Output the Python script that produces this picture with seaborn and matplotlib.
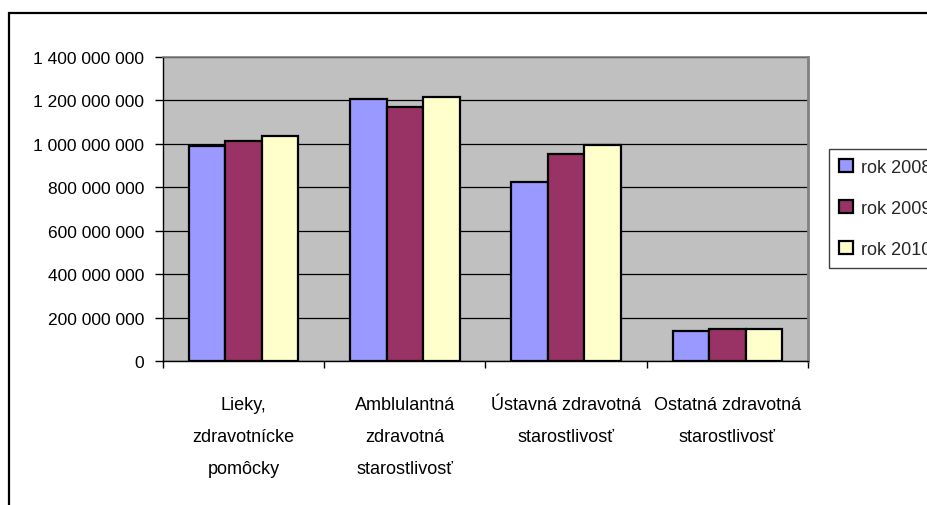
import pandas as pd
import seaborn as sns
import matplotlib.pyplot as plt
from matplotlib.patches import Rectangle
from matplotlib.ticker import FixedLocator, FuncFormatter

# data
categories = [
    "Lieky,\nzdravotnícke\npomôcky",
    "Amblulantná\nzdravotná\nstarostlivosť",
    "Ústavná zdravotná\nstarostlivosť",
    "Ostatná zdravotná\nstarostlivosť",
]
years = ["rok 2008", "rok 2009", "rok 2010"]
vals_2008 = [990e6, 1207e6, 823e6, 138e6]
vals_2009 = [1015e6, 1171e6, 953e6, 148e6]
vals_2010 = [1034e6, 1217e6, 996e6, 149e6]
yticks = [0, 200e6, 400e6, 600e6, 800e6, 1000e6, 1200e6, 1400e6]
colors = ["#9999FF", "#993366", "#FFFFCC"]

df = pd.DataFrame({
    "kategoria": categories * 3,
    "rok": [y for y in years for _ in categories],
    "hodnota": vals_2008 + vals_2009 + vals_2010,
})

sns.set_style("white")
plt.rcParams["font.family"] = ["Liberation Sans", "DejaVu Sans"]

W, H = 928, 506
fig = plt.figure(figsize=(W / 100, H / 100), dpi=100)
ax = fig.add_axes([163 / W, 1 - 362 / H, 645 / W, 304 / H])
ax.set_facecolor("#C0C0C0")

sns.barplot(data=df, x="kategoria", y="hodnota", hue="rok", palette=colors,
            saturation=1, width=0.68, edgecolor="black", linewidth=1.6,
            ax=ax, zorder=3)

ax.set_xlim(-0.5, 3.5)
ax.set_ylim(0, 1400e6)
ax.set_yticks(yticks)
ax.yaxis.set_major_formatter(FuncFormatter(lambda v, p: f"{int(v):,}".replace(",", " ")))
ax.yaxis.grid(True, color="black", linewidth=0.9, zorder=1)
ax.set_axisbelow(True)
ax.set_xlabel("")
ax.set_ylabel("")

ax.tick_params(axis="y", direction="out", length=5.5, width=1, color="black",
               labelsize=12.5, labelcolor="black", pad=8, left=True)
ax.tick_params(axis="x", which="major", length=0, labelsize=13,
               labelcolor="black", pad=25.5)
ax.xaxis.set_minor_locator(FixedLocator([-0.5, 0.5, 1.5, 2.5, 3.5]))
ax.tick_params(axis="x", which="minor", direction="out", length=5, width=1,
               color="black", bottom=True)
for t in ax.get_xticklabels():
    t.set_linespacing(2.15)

for side in ["left", "bottom"]:
    ax.spines[side].set_color("black")
    ax.spines[side].set_linewidth(1)
ax.spines["top"].set_color("#808080")
ax.spines["top"].set_linewidth(1.2)
ax.spines["right"].set_color("#808080")
ax.spines["right"].set_linewidth(2)

leg = ax.legend(loc="upper left", bbox_to_anchor=(829 / W, 1 - 149.5 / H),
                bbox_transform=fig.transFigure, frameon=True, fancybox=False,
                edgecolor="#404040", framealpha=1, title=None, fontsize=13,
                handlelength=0.75, handleheight=0.75, handletextpad=0.45,
                labelspacing=1.33, borderpad=0.58, borderaxespad=0)
leg.get_frame().set_linewidth(1)

# outer chart frame, cut off at the right and bottom like the reference
fig.patches.append(Rectangle((9 / W, -0.2), 1.5, 1.2 - 14 / H,
                             transform=fig.transFigure, fill=False,
                             edgecolor="black", linewidth=1.6))

fig.savefig("out.png", dpi=100)
